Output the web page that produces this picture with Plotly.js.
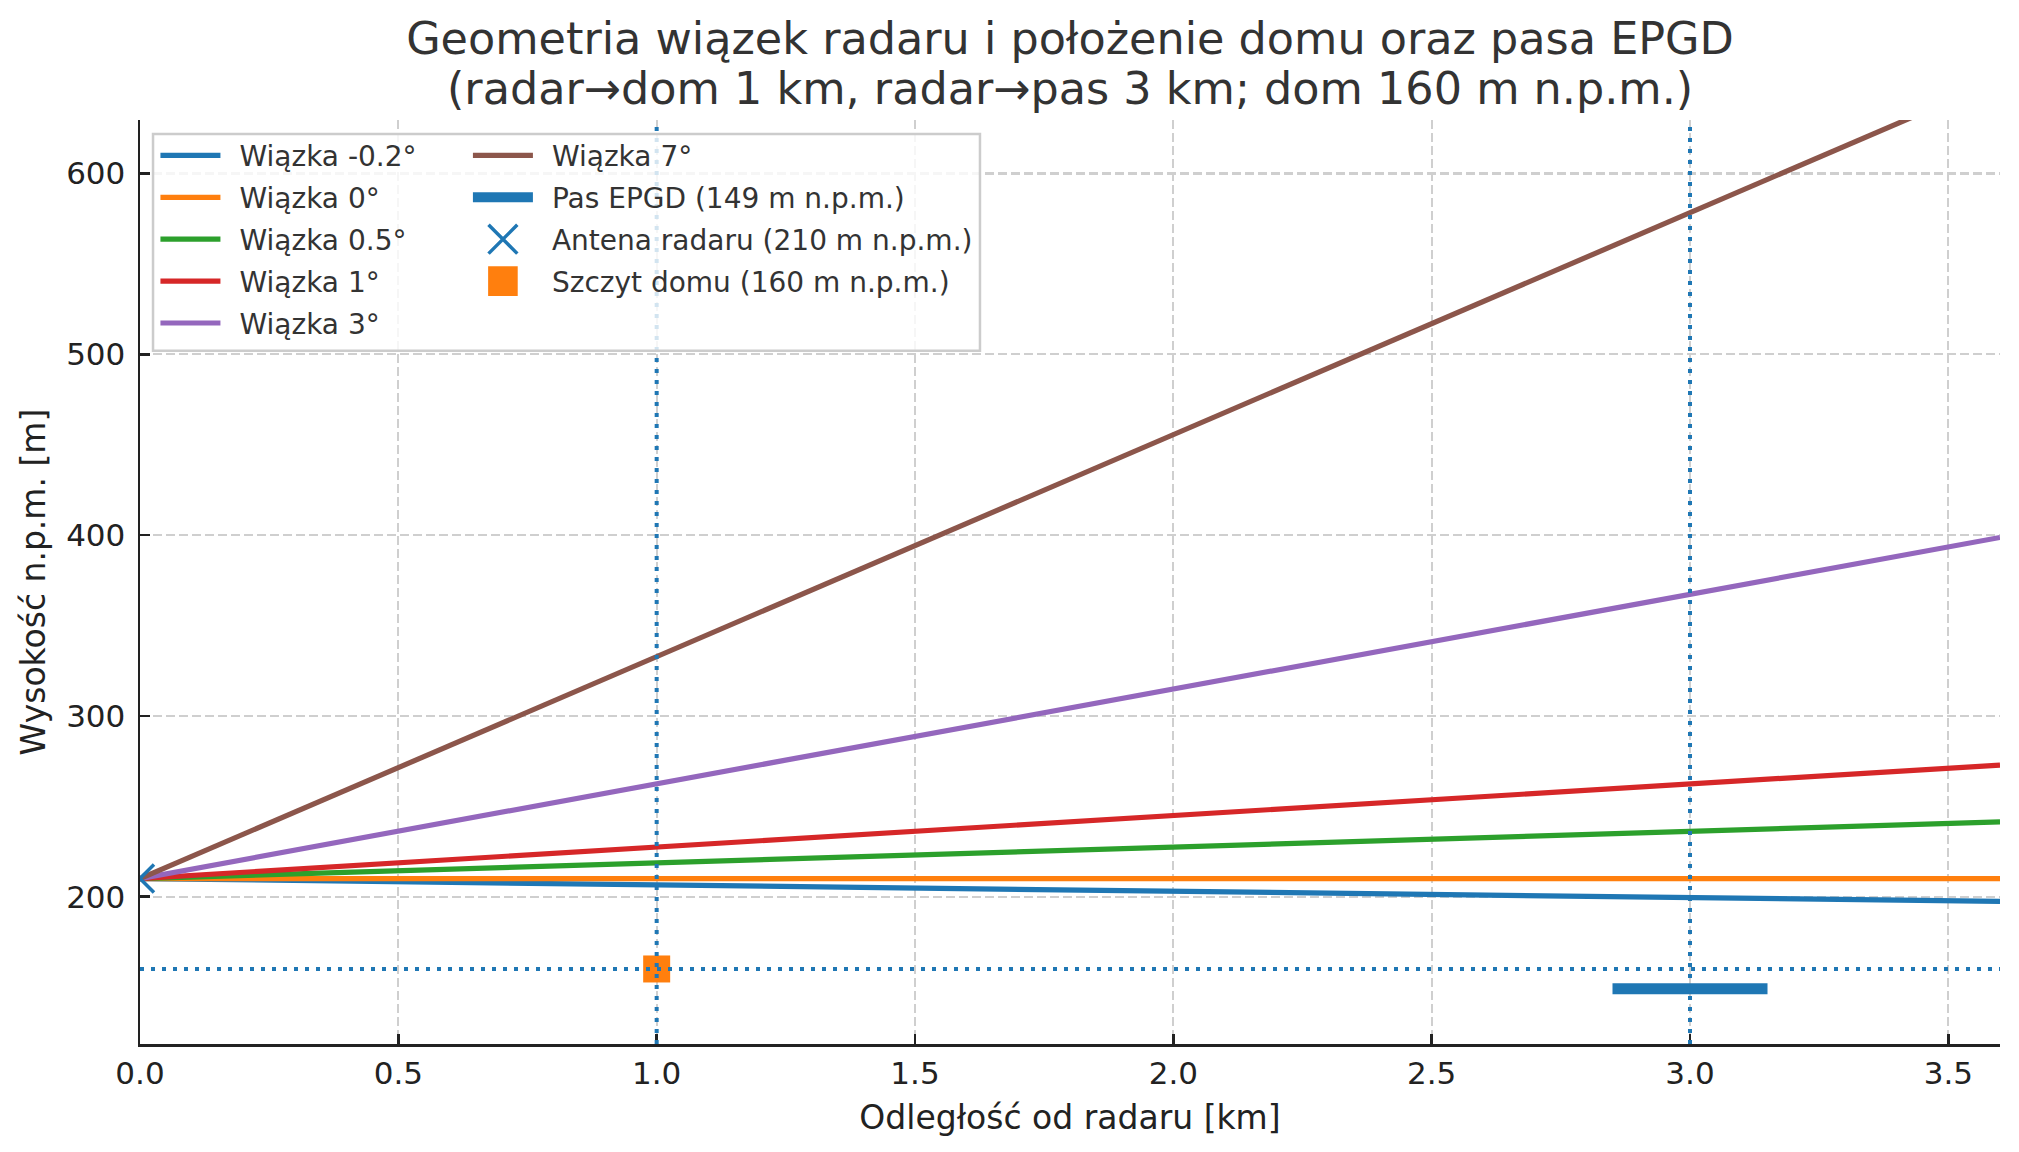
<!DOCTYPE html>
<html>
<head>
<meta charset="utf-8">
<script src="https://cdn.plot.ly/plotly-3.0.1.min.js"></script>
<style>html,body{margin:0;padding:0;background:#fff;}#chart{width:2019px;height:1152px;}</style>
</head>
<body>
<div id="chart"></div>
<script>
// ---- data ----
const beamNames = ['Wiązka -0.2°', 'Wiązka 0°', 'Wiązka 0.5°', 'Wiązka 1°', 'Wiązka 3°', 'Wiązka 7°'];
const beamColors = ['#1f77b4', '#ff7f0e', '#2ca02c', '#d62728', '#9467bd', '#8c564b'];
const beamDistKm = [0, 3.6];
const beamHm02 = [210, 197.4];
const beamH0 = [210, 210];
const beamH05 = [210, 241.4];
const beamH1 = [210, 272.8];
const beamH3 = [210, 398.7];
const beamH7 = [210, 652.0];
const pasName = 'Pas EPGD (149 m n.p.m.)';
const pasX = [2.85, 3.15];
const pasY = [149, 149];
const antenaName = 'Antena radaru (210 m n.p.m.)';
const antenaX = [0];
const antenaY = [210];
const domName = 'Szczyt domu (160 m n.p.m.)';
const domX = [1];
const domY = [160];
const refLinesX = [1, 3];     // radar->dom 1 km, radar->pas 3 km
const refLinesY = [160];      // dom 160 m n.p.m.
const xTickVals = [0, 0.5, 1, 1.5, 2, 2.5, 3, 3.5];
const xTickText = ['0.0', '0.5', '1.0', '1.5', '2.0', '2.5', '3.0', '3.5'];
const yTickVals = [200, 300, 400, 500, 600];
const yTickText = ['200', '300', '400', '500', '600'];
const titleLine1 = 'Geometria wiązek radaru i położenie domu oraz pasa EPGD';
const titleLine2 = '(radar→dom 1 km, radar→pas 3 km; dom 160 m n.p.m.)';

const FONT = 'DejaVu Sans, sans-serif';
const GAP = '\u2002'; // en space: matplotlib-like gap between legend handle and label
const beamHeights = [beamHm02, beamH0, beamH05, beamH1, beamH3, beamH7];

const traces = [];
beamHeights.forEach((h, i) => {
  traces.push({
    type: 'scatter', mode: 'lines', x: beamDistKm, y: h,
    name: GAP + beamNames[i],
    line: {color: beamColors[i], width: 5.2},
    legend: i < 5 ? 'legend' : 'legend2',
    legendgroup: 'g' + i,
    legendrank: i < 5 ? i + 1 : 1
  });
});
traces.push({
  type: 'scatter', mode: 'lines', x: pasX, y: pasY, name: GAP + pasName,
  line: {color: '#1f77b4', width: 11}, legend: 'legend2', legendgroup: 'pas', legendrank: 2
});
traces.push({
  type: 'scatter', mode: 'markers', x: antenaX, y: antenaY, name: GAP + antenaName,
  marker: {symbol: 'x-thin', size: 28, color: '#1f77b4', line: {color: '#1f77b4', width: 3.5}},
  legend: 'legend2', legendgroup: 'ant', legendrank: 3
});
traces.push({
  type: 'scatter', mode: 'markers', x: domX, y: domY, name: GAP + domName,
  marker: {symbol: 'square', size: 27, color: '#ff7f0e', line: {width: 0}},
  legend: 'legend2', legendgroup: 'dom', legendrank: 4
});

const shapes = [];
refLinesX.forEach(v => shapes.push({
  type: 'line', xref: 'x', yref: 'y domain', x0: v, x1: v, y0: 0, y1: 1,
  line: {color: '#1f77b4', width: 4, dash: '4px,7px'}, layer: 'above'
}));
refLinesY.forEach(v => shapes.push({
  type: 'line', xref: 'x domain', yref: 'y', x0: 0, x1: 1, y0: v, y1: v,
  line: {color: '#1f77b4', width: 4, dash: '4px,7px'}, layer: 'above'
}));
// legend frame (matplotlib-like, semi-transparent)
shapes.push({
  type: 'rect', xref: 'paper', yref: 'paper', x0: 0.007, x1: 0.4516, y0: 0.7503, y1: 0.9848,
  fillcolor: 'rgba(255,255,255,0.8)', line: {color: '#cccccc', width: 2.5}, layer: 'above'
});

const legendCommon = {
  font: {family: FONT, size: 28, color: '#333333'},
  bgcolor: 'rgba(0,0,0,0)', borderwidth: 0,
  xanchor: 'left', yanchor: 'top', itemwidth: 60, traceorder: 'grouped',
  tracegroupgap: 2.5,
  itemclick: false, itemdoubleclick: false
};

const layout = {
  width: 2019, height: 1152,
  margin: {l: 140, r: 19, t: 120, b: 108, pad: 0},
  paper_bgcolor: '#ffffff', plot_bgcolor: '#ffffff',
  font: {family: FONT, size: 31, color: '#222222'},
  title: {
    text: titleLine1,
    font: {family: FONT, size: 44.5, color: '#333333'},
    xref: 'paper', x: 0.5, xanchor: 'center',
    yref: 'container', y: 1 - 38.6 / 1152, yanchor: 'middle'
  },
  annotations: [{
    text: titleLine2, showarrow: false,
    font: {family: FONT, size: 44.5, color: '#333333'},
    xref: 'paper', x: 0.5, xanchor: 'center',
    yref: 'paper', y: (1044 - 88.8) / 924, yanchor: 'middle'
  }],
  xaxis: {
    range: [0, 3.6], tickvals: xTickVals, ticktext: xTickText,
    showline: true, linecolor: '#222222', linewidth: 2.5, mirror: false,
    ticks: 'inside', ticklen: 10, tickwidth: 2.5, tickcolor: '#222222',
    ticklabelstandoff: 0,
    showgrid: true, gridcolor: '#cfcfcf', gridwidth: 2.2, griddash: '9px,4px',
    zeroline: false,
    tickfont: {family: FONT, size: 31, color: '#222222'},
    title: {text: 'Odległość od radaru [km]', font: {family: FONT, size: 33, color: '#222222'}, standoff: 16}
  },
  yaxis: {
    range: [118.5, 629.6], tickvals: yTickVals, ticktext: yTickText,
    showline: true, linecolor: '#222222', linewidth: 2.5, mirror: false,
    ticks: 'inside', ticklen: 10, tickwidth: 2.5, tickcolor: '#222222',
    ticklabelstandoff: 6,
    showgrid: true, gridcolor: '#cfcfcf', gridwidth: 2.2, griddash: '9px,4px',
    zeroline: false,
    tickfont: {family: FONT, size: 31, color: '#222222'},
    title: {text: 'Wysokość n.p.m. [m]', font: {family: FONT, size: 33, color: '#222222'}, standoff: 11}
  },
  legend: Object.assign({}, legendCommon, {x: 0.0083, y: 0.9884}),
  legend2: Object.assign({}, legendCommon, {x: 0.1763, y: 0.9884}),
  shapes: shapes,
  showlegend: true
};

function enlargeLegendMarkers(gd) {
  // Plotly caps legend marker size at 16px; matplotlib shows them at full size
  gd.querySelectorAll('.legendpoints path.scatterpts').forEach(p => {
    const base = (p.getAttribute('transform') || '').replace(/\s*scale\([^)]*\)/g, '');
    const fill = (p.style.fill || '') + (p.getAttribute('d') || '');
    const isSquare = /255, 127, 14|ff7f0e/i.test(p.style.fill || '');
    const k = isSquare ? 1.85 : 1.8;
    p.setAttribute('transform', base + ' scale(' + k + ')');
    p.style.vectorEffect = 'non-scaling-stroke';
  });
}

Plotly.newPlot('chart', traces, layout, {displayModeBar: false, staticPlot: true}).then(gd => {
  enlargeLegendMarkers(gd);
  gd.on('plotly_afterplot', () => enlargeLegendMarkers(gd));
  setTimeout(() => enlargeLegendMarkers(gd), 50);
});
</script>
</body>
</html>
